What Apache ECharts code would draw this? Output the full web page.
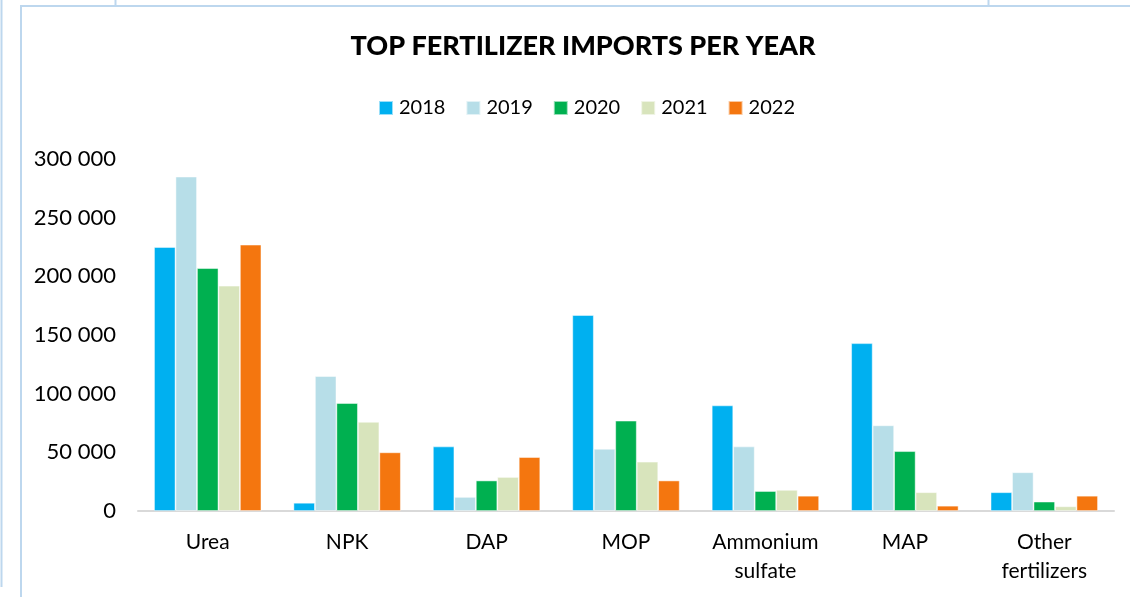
<!DOCTYPE html>
<html>
<head>
<meta charset="utf-8">
<script src="https://cdn.jsdelivr.net/npm/echarts@6/dist/echarts.min.js"></script>
<style>
html,body{margin:0;padding:0;background:#fff;}
#chart{width:1130px;height:597px;}
</style>
</head>
<body>
<div id="chart"></div>
<script>
const categories = ['Urea', 'NPK', 'DAP', 'MOP', 'Ammonium\nsulfate', 'MAP', 'Other\nfertilizers'];
const years = ['2018', '2019', '2020', '2021', '2022'];
const v2018 = [225000, 7000, 55000, 167000, 90000, 143000, 16000];
const v2019 = [285000, 115000, 12000, 53000, 55000, 73000, 33000];
const v2020 = [207000, 92000, 26000, 77000, 17000, 51000, 8000];
const v2021 = [192000, 76000, 29000, 42000, 18000, 16000, 4000];
const v2022 = [227000, 50000, 46000, 26000, 13000, 4500, 13000];
const yTicks = [0, 50000, 100000, 150000, 200000, 250000, 300000];
const colors = ['#00B0F0', '#B7DEE8', '#00B050', '#D8E4BC', '#F4760F'];
const values = [v2018, v2019, v2020, v2021, v2022];

const font = 'Lato, "Noto Sans", sans-serif';
const frame = '#BDD7EE';

const chart = echarts.init(document.getElementById('chart'), null, {renderer: 'canvas'});
chart.setOption({
  animation: false,
  backgroundColor: '#fff',
  color: colors,
  title: {
    text: 'TOP FERTILIZER IMPORTS PER YEAR',
    left: 578,
    top: 28,
    textAlign: 'center',
    textStyle: {fontFamily: font, fontWeight: 900, fontSize: 27, color: '#000'}
  },
  legend: {
    data: years,
    left: 373,
    top: 93,
    itemWidth: 14,
    itemHeight: 14,
    itemGap: 20,
    icon: 'rect',
    textStyle: {fontFamily: font, fontSize: 20, color: '#000', padding: [0, 0, 0, 1]}
  },
  grid: {left: 138, right: 16, top: 159, bottom: 86, containLabel: false},
  xAxis: {
    type: 'category',
    data: categories,
    axisLine: {show: true, lineStyle: {color: '#D9D9D9', width: 2}},
    axisTick: {show: false},
    axisLabel: {
      interval: 0,
      margin: 17,
      fontFamily: font,
      fontSize: 21,
      lineHeight: 29,
      color: '#000'
    }
  },
  yAxis: {
    type: 'value',
    min: yTicks[0],
    max: yTicks[yTicks.length - 1],
    interval: yTicks[1] - yTicks[0],
    splitLine: {show: false},
    axisLine: {show: false},
    axisTick: {show: false},
    axisLabel: {
      margin: 22,
      fontFamily: font,
      fontSize: 22,
      color: '#000',
      formatter: function (v) {
        return String(v).replace(/\B(?=(\d{3})+(?!\d))/g, ' ');
      }
    }
  },
  series: years.map(function (y, i) {
    return {
      name: y,
      type: 'bar',
      data: values[i],
      barGap: '0%',
      barCategoryGap: '23%',
      itemStyle: {color: colors[i], borderColor: 'rgba(255,255,255,0.6)', borderWidth: 0.8}
    };
  }),
  graphic: [
    {type: 'line', shape: {x1: 1.5, y1: 0, x2: 1.5, y2: 587}, style: {stroke: frame, lineWidth: 2}},
    {type: 'line', shape: {x1: 21, y1: 6, x2: 21, y2: 597}, style: {stroke: frame, lineWidth: 2}},
    {type: 'line', shape: {x1: 20, y1: 6, x2: 1130, y2: 6}, style: {stroke: frame, lineWidth: 2}},
    {type: 'line', shape: {x1: 115.5, y1: 0, x2: 115.5, y2: 6}, style: {stroke: frame, lineWidth: 2}},
    {type: 'line', shape: {x1: 988.5, y1: 0, x2: 988.5, y2: 6}, style: {stroke: frame, lineWidth: 2}}
  ]
});
</script>
</body>
</html>
